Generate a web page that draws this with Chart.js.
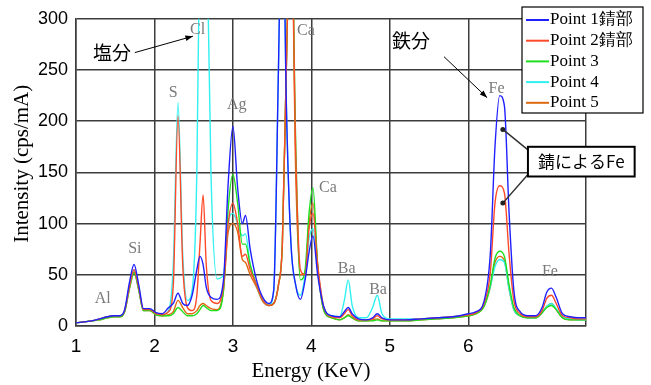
<!DOCTYPE html>
<html>
<head>
<meta charset="utf-8">
<script src="https://cdn.jsdelivr.net/npm/chart.js@4/dist/chart.umd.min.js"></script>
<style>
  body { margin: 0; background: #fff; }
  canvas { display: block; }
</style>
</head>
<body>
<canvas id="myChart" width="651" height="385"></canvas>
<script>
// energy axis (keV), shared by all five spectra
const energy = [
  1.00, 1.10, 1.20, 1.30, 1.40, 1.48, 1.56, 1.62, 1.68, 1.74, 1.80, 1.86,
  1.94, 2.02, 2.10, 2.18, 2.24, 2.30, 2.36, 2.42, 2.48, 2.54, 2.58, 2.62,
  2.66, 2.72, 2.80, 2.88, 2.94, 3.00, 3.06, 3.12, 3.16, 3.22, 3.30, 3.38,
  3.46, 3.52, 3.58, 3.63, 3.68, 3.74, 3.80, 3.86, 3.92, 3.97, 4.02, 4.08,
  4.16, 4.26, 4.36, 4.42, 4.47, 4.52, 4.60, 4.70, 4.78, 4.84, 4.90, 5.00,
  5.20, 5.40, 5.60, 5.80, 6.00, 6.10, 6.20, 6.28, 6.34, 6.40, 6.46, 6.52,
  6.58, 6.66, 6.76, 6.86, 6.94, 7.00, 7.06, 7.12, 7.20, 7.30, 7.40, 7.50
];

const point1 = [
  3, 4, 5, 7, 9, 10, 10, 16, 42, 60, 40, 17,
  17, 13, 12, 18, 22, 32, 22, 20, 30, 55, 68, 60,
  38, 28, 26, 45, 140, 195, 135, 100, 108, 75, 45, 28,
  22, 35, 250, 450, 220, 80, 40, 26, 45, 72, 88, 50,
  18, 10, 9, 14, 18, 12, 7, 6, 8, 12, 8, 6,
  6, 7, 8, 9, 12, 14, 24, 70, 175, 225, 215, 110,
  35, 14, 10, 10, 18, 33, 37, 28, 12, 9, 8, 8
];
const point2 = [
  3, 4, 5, 7, 9, 10, 10, 15, 38, 55, 37, 16,
  16, 12, 11, 14, 40, 205, 60, 18, 15, 30, 80, 128,
  60, 25, 22, 40, 100, 120, 100, 68, 70, 55, 40, 25,
  20, 22, 40, 80, 250, 420, 170, 55, 50, 95, 110, 60,
  18, 9, 8, 12, 16, 10, 6, 6, 7, 10, 7, 6,
  6, 7, 8, 9, 11, 13, 22, 52, 120, 137, 130, 70,
  25, 12, 9, 9, 15, 27, 30, 22, 10, 8, 7, 7
];
const point3 = [
  3, 4, 5, 6, 8, 9, 9, 14, 36, 52, 35, 15,
  15, 11, 10, 10, 12, 18, 14, 10, 10, 12, 16, 20,
  18, 15, 15, 35, 115, 148, 120, 80, 80, 60, 40, 25,
  20, 22, 40, 80, 250, 420, 180, 45, 55, 110, 135, 60,
  15, 8, 6, 8, 10, 8, 5, 5, 5, 6, 5, 5,
  5, 6, 7, 8, 10, 12, 19, 40, 66, 73, 68, 40,
  18, 10, 8, 8, 13, 18, 20, 16, 8, 6, 6, 6
];
const point4 = [
  3, 4, 5, 7, 9, 10, 10, 15, 38, 55, 36, 15,
  16, 12, 11, 15, 60, 218, 70, 25, 35, 150, 400, 480,
  420, 150, 46, 50, 100, 110, 100, 88, 90, 60, 40, 25,
  20, 35, 250, 450, 220, 80, 40, 30, 50, 85, 95, 55,
  18, 10, 9, 25, 45, 20, 8, 8, 18, 30, 12, 7,
  7, 7, 8, 9, 11, 13, 20, 38, 58, 65, 62, 36,
  16, 10, 8, 8, 13, 19, 22, 17, 9, 7, 6, 6
];
const point5 = [
  3, 4, 5, 6, 8, 9, 9, 14, 36, 53, 35, 15,
  15, 11, 10, 11, 14, 25, 18, 12, 12, 15, 20, 22,
  20, 17, 16, 35, 92, 100, 92, 65, 62, 50, 38, 24,
  20, 22, 40, 80, 250, 420, 150, 50, 52, 100, 120, 58,
  15, 8, 6, 8, 11, 8, 5, 5, 6, 7, 5, 5,
  5, 6, 7, 8, 10, 12, 19, 38, 62, 68, 64, 36,
  16, 10, 8, 8, 13, 19, 22, 16, 8, 6, 6, 6
];

const seriesNames = ['Point 1錆部', 'Point 2錆部', 'Point 3', 'Point 4', 'Point 5'];
const seriesColors = ['#2020ff', '#ff4a2a', '#1ee01e', '#30f0f0', '#dd6a10'];
const seriesValues = [point1, point2, point3, point4, point5];

// element labels over the peaks (keV, intensity)
const peakNames  = ['Al', 'Si', 'S', 'Cl', 'Ag', 'Ca', 'Ca', 'Ba', 'Ba', 'Fe', 'Fe'];
const peakEnergy = [1.34, 1.75, 2.24, 2.55, 3.05, 3.93, 4.21, 4.45, 4.85, 6.36, 7.04];
const peakHeight = [27, 75, 228, 289, 216, 288, 135, 56, 35, 232, 53];

const yTicks = [0, 50, 100, 150, 200, 250, 300];

const serif = '"Liberation Serif", "Times New Roman", serif';
const sans = '"Liberation Sans", Arial, sans-serif';
const cjk = '"Noto Sans CJK JP", sans-serif';

function arrow(ctx, x1, y1, x2, y2) {
  const a = Math.atan2(y2 - y1, x2 - x1);
  ctx.beginPath();
  ctx.moveTo(x1, y1);
  ctx.lineTo(x2, y2);
  ctx.stroke();
  ctx.beginPath();
  ctx.moveTo(x2, y2);
  ctx.lineTo(x2 - 8 * Math.cos(a - 0.35), y2 - 8 * Math.sin(a - 0.35));
  ctx.lineTo(x2 - 8 * Math.cos(a + 0.35), y2 - 8 * Math.sin(a + 0.35));
  ctx.closePath();
  ctx.fill();
}

const annotate = {
  id: 'annotate',
  afterDatasetsDraw(chart) {
    const { ctx, scales: { x, y } } = chart;
    const px = e => x.getPixelForValue(e);
    const py = v => y.getPixelForValue(v);
    ctx.save();

    ctx.font = '16px ' + serif;
    ctx.fillStyle = '#7a7a7a';
    ctx.textAlign = 'center';
    ctx.textBaseline = 'middle';
    peakNames.forEach((n, i) => ctx.fillText(n, px(peakEnergy[i]), py(peakHeight[i])));

    // 塩分 / 鉄分 with arrows
    ctx.fillStyle = '#000';
    ctx.strokeStyle = '#000';
    ctx.lineWidth = 1;
    ctx.font = '19px ' + cjk;
    ctx.fillText('塩分', px(1.46), py(267));
    ctx.fillText('鉄分', px(5.27), py(279));
    arrow(ctx, px(1.75), py(267), px(2.49), py(283));
    arrow(ctx, px(5.69), py(263), px(6.24), py(223));

    // 錆によるFe box with two leaders
    const bx1 = px(6.76), bx2 = px(8.12), by1 = py(175), by2 = py(146);
    ctx.strokeStyle = '#333';
    ctx.lineWidth = 1.5;
    ctx.beginPath();
    ctx.moveTo(px(6.44), py(192)); ctx.lineTo(bx1, by1 + 3);
    ctx.moveTo(px(6.44), py(120)); ctx.lineTo(bx1, by2 - 2);
    ctx.stroke();
    ctx.fillStyle = '#222';
    [192, 120].forEach(v => {
      ctx.beginPath();
      ctx.arc(px(6.44), py(v), 2.5, 0, Math.PI * 2);
      ctx.fill();
    });
    ctx.fillStyle = '#fff';
    ctx.fillRect(bx1, by1, bx2 - bx1, by2 - by1);
    ctx.strokeStyle = '#000';
    ctx.lineWidth = 2;
    ctx.strokeRect(bx1, by1, bx2 - bx1, by2 - by1);
    ctx.fillStyle = '#000';
    ctx.font = '17px ' + cjk;
    ctx.fillText('錆によるFe', (bx1 + bx2) / 2, (by1 + by2) / 2);
    ctx.restore();
  },
  afterDraw(chart) {
    const { ctx, chartArea } = chart;
    ctx.save();
    // axis titles
    ctx.fillStyle = '#000';
    ctx.textAlign = 'center';
    ctx.textBaseline = 'middle';
    ctx.font = '21px ' + serif;
    ctx.fillText('Energy (KeV)', chartArea.left + 235, 371);
    ctx.translate(22, chartArea.top + 145);
    ctx.rotate(-Math.PI / 2);
    ctx.fillText('Intensity (cps/mA)', 0, 0);
    ctx.restore();

    // legend box
    ctx.save();
    const lx = 522, ly = 7, lw = 121, lh = 106;
    ctx.fillStyle = '#fff';
    ctx.fillRect(lx, ly, lw, lh);
    ctx.strokeStyle = '#000';
    ctx.lineWidth = 1.2;
    ctx.strokeRect(lx, ly, lw, lh);
    ctx.font = '17px ' + serif;
    ctx.textAlign = 'left';
    ctx.textBaseline = 'middle';
    seriesNames.forEach((n, i) => {
      const ry = ly + 13 + i * 20.7;
      ctx.strokeStyle = seriesColors[i];
      ctx.lineWidth = 2;
      ctx.beginPath();
      ctx.moveTo(lx + 4, ry);
      ctx.lineTo(lx + 27, ry);
      ctx.stroke();
      ctx.fillStyle = '#000';
      ctx.fillText(n, lx + 28, ry);
    });
    ctx.restore();
  }
};

const ctx = document.getElementById('myChart').getContext('2d');
const myChart = new Chart(ctx, {
  type: 'line',
  data: {
    datasets: seriesValues.map((vals, i) => ({
      label: seriesNames[i],
      data: energy.map((e, k) => ({ x: e, y: vals[k] })),
      borderColor: seriesColors[i],
      borderWidth: 1.4,
      pointRadius: 0,
      cubicInterpolationMode: 'monotone',
      fill: false
    }))
  },
  options: {
    responsive: false,
    animation: false,
    layout: { padding: { left: 0, right: 65, top: 12, bottom: 0 } },
    plugins: {
      legend: { display: false },
      tooltip: { enabled: false }
    },
    scales: {
      x: {
        type: 'linear',
        min: 1,
        max: 7.5,
        afterFit: s => { s.height = 59; },
        ticks: {
          stepSize: 1,
          padding: 9,
          color: '#000',
          font: { family: sans, size: 19 },
          callback: v => Number.isInteger(v) ? v : ''
        },
        grid: { color: '#3c3c3c', lineWidth: 1.5, drawTicks: false },
        border: { color: '#3c3c3c', width: 1.5 }
      },
      y: {
        min: 0,
        max: 300,
        afterFit: s => { s.width = 76; },
        afterBuildTicks: s => { s.ticks = yTicks.map(v => ({ value: v })); },
        ticks: {
          padding: 8,
          color: '#000',
          font: { family: sans, size: 18 }
        },
        grid: { color: '#3c3c3c', lineWidth: 1.5, drawTicks: false },
        border: { color: '#3c3c3c', width: 1.5 }
      }
    }
  },
  plugins: [annotate]
});
</script>
</body>
</html>
